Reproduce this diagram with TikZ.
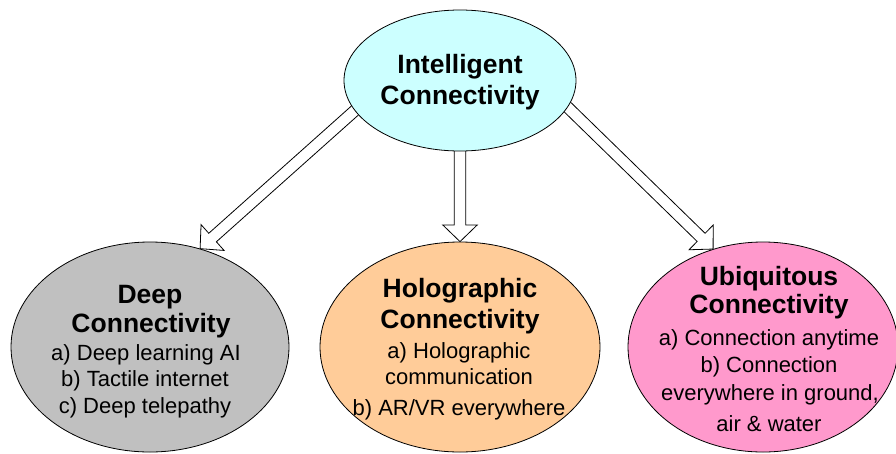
\documentclass[tikz,border=0pt]{standalone}
\usepackage{fontspec}
\setmainfont{Liberation Sans}
\usetikzlibrary{calc,backgrounds,shapes.geometric}
\definecolor{topfill}{HTML}{CCFFFF}
\definecolor{deepfill}{HTML}{C0C0C0}
\definecolor{holofill}{HTML}{FFCC99}
\definecolor{ubiqfill}{HTML}{FF99CC}
\newcommand{\hollowarrow}[2]{%
  \coordinate (hs) at ($(#1)!-20pt!(#2)$);
  \coordinate (hh) at ($(#2)!16.7pt!(#1)$);
  \draw[hollow] ($(hs)!5.7pt!90:(#2)$) -- ($(hh)!5.7pt!90:(#2)$) -- ($(hh)!17.3pt!90:(#2)$)
    -- (#2) -- ($(hh)!17.3pt!-90:(#2)$) -- ($(hh)!5.7pt!-90:(#2)$) -- ($(hs)!5.7pt!-90:(#2)$) -- cycle;
}
\begin{document}
\begin{tikzpicture}[x=1pt,y=-1pt,
  bubble/.style={ellipse,draw=black,line width=0.8pt,inner sep=0pt},
  ttl/.style={anchor=base,inner sep=0pt,font=\fontsize{26.5}{30}\selectfont\bfseries},
  txt/.style={anchor=base,inner sep=0pt,font=\fontsize{22}{26}\selectfont},
  hollow/.style={draw=black,fill=white,line width=0.8pt,line join=miter}]
\useasboundingbox (0,0) rectangle (896,453);

% ellipses
\node[bubble,fill=topfill,minimum width=232pt,minimum height=141pt] (top) at (460,80.5) {};
\node[bubble,fill=deepfill,minimum width=278pt,minimum height=210pt] (deep) at (150,347) {};
\node[bubble,fill=holofill,minimum width=280pt,minimum height=210pt] (holo) at (460,347) {};
\node[bubble,fill=ubiqfill,minimum width=270pt,minimum height=210pt] (ubiq) at (763,347) {};

% texts
\node[ttl] (t1) at (460,73) {Intelligent};
\node[ttl] (t2) at (460,104) {Connectivity};

\node[ttl] (d1) at (150,303) {Deep};
\node[ttl] (d2) at (151,332) {Connectivity};
\node[txt] (d3) at (146,360) {a) Deep learning AI};
\node[txt] (d4) at (145,386) {b) Tactile internet};
\node[txt] (d5) at (145,413) {c) Deep telepathy};

\node[ttl] (h1) at (460,297) {Holographic};
\node[ttl] (h2) at (460,328) {Connectivity};
\node[txt] (h3) at (459,358) {a) Holographic};
\node[txt] (h4) at (459,384) {communication};
\node[txt] (h5) at (459,415) {b) AR/VR everywhere};

\node[ttl] (u1) at (769,285) {Ubiquitous};
\node[ttl] (u2) at (769,313) {Connectivity};
\node[txt] (u3) at (769,345) {a) Connection anytime};
\node[txt] (u4) at (769,372) {b) Connection};
\node[txt] (u5) at (770,400) {everywhere in ground,};
\node[txt] (u6) at (769,431) {air \& water};

% arrows
\begin{scope}[on background layer]
\hollowarrow{top.196}{deep.63}
\hollowarrow{top.south}{holo.north}
\hollowarrow{top.-14}{ubiq.117}
\end{scope}
\end{tikzpicture}
\end{document}
